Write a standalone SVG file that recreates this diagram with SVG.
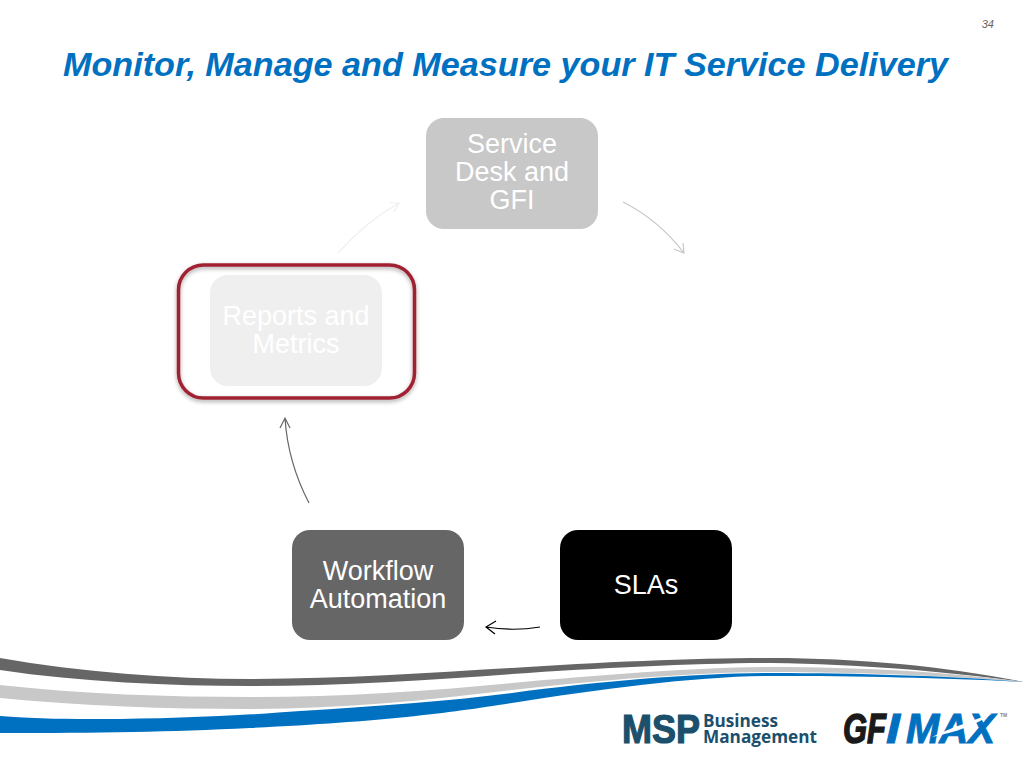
<svg xmlns="http://www.w3.org/2000/svg" width="1024" height="768" viewBox="0 0 1024 768">
<style>
.t{font-family:"Liberation Sans",Arial,sans-serif}
.n{font-size:27px;text-anchor:middle;fill:#fff}
.c{fill:none;stroke-width:1.2}
.logo{font-family:"Liberation Sans",Arial,sans-serif;font-weight:700}
.sub{font-family:"Open Sans","Liberation Sans",sans-serif;font-weight:700;font-size:17.5px;fill:#1b4f6b}
</style>
<defs>
<filter id="sh" x="-10%" y="-10%" width="120%" height="125%"><feDropShadow dx="0" dy="2" stdDeviation="2" flood-color="#000" flood-opacity="0.35"/></filter>
</defs>
<rect width="1024" height="768" fill="#fff"/>
<text class="t" x="994" y="28" font-size="11" font-style="italic" text-anchor="end" fill="#666">34</text>
<text class="t" x="63" y="76" font-size="34" font-weight="700" font-style="italic" fill="#0070C0" textLength="885" lengthAdjust="spacingAndGlyphs">Monitor, Manage and Measure your IT Service Delivery</text>
<g id="swoosh">
<path fill="#666" d="M0 658C80 672 170 679 250 679C340 679 430 673 512 668C600 662 700 658 772 658C860 658 950 667 1024 682C950 672 860 664 772 663C700 663 600 668 512 674C430 680 340 686 250 686C170 686 80 682 0 670Z"/>
<path fill="#c8c8c8" d="M0 685C80 694 170 697 250 697C340 697 430 691 512 683C600 675 700 667 772 667C860 667 950 672 1024 682C950 676 860 672 772 672C700 672 600 680 512 690C430 700 340 709 250 709C170 709 80 706 0 698Z"/>
<path fill="#0070C0" d="M0 716C40 719 70 719 100 719C170 719 250 715 300 711C380 706 450 701 512 693C600 681 700 673 772 673C860 673 950 676 1024 682C950 678 860 676 772 676C700 676 600 689 512 703C450 713 380 722 250 728C170 732 100 733 0 733Z"/>
</g>
<g id="connectors">
<path class="c" stroke="#efefef" d="M338 253C355 234 376 216 399 203M389 203L399 203L394 212"/>
<path class="c" stroke="#c8c8c8" d="M623 202C645 213 667 231 684 253M674 249L684 253L683 243"/>
<path class="c" stroke="#000" stroke-width="1.4" d="M540 627C522 630 504 630 486 627M496 621L486 627L495 634"/>
<path class="c" stroke="#666" stroke-width="1.4" d="M309 503C296 478 287 450 285 418M280 428L285 418L290 428"/>
</g>
<g id="node-service-desk">
<rect x="426" y="118" width="172" height="111" rx="18" fill="#c8c8c8"/>
<text class="t n" x="512" y="153">Service</text><text class="t n" x="512" y="181">Desk and</text><text class="t n" x="512" y="209">GFI</text>
</g>
<g id="node-reports">
<rect x="210" y="275" width="172" height="111" rx="18" fill="#efefef"/>
<text class="t n" x="296" y="325">Reports and</text><text class="t n" x="296" y="353">Metrics</text>
</g>
<g id="highlight">
<rect x="178.500" y="265" width="236" height="133" rx="25" fill="none" stroke="#a02333" stroke-width="3.500" filter="url(#sh)"/>
</g>
<g id="node-workflow">
<rect x="292" y="530" width="172" height="110" rx="18" fill="#666"/>
<text class="t n" x="378" y="580">Workflow</text><text class="t n" x="378" y="608">Automation</text>
</g>
<g id="node-slas">
<rect x="560" y="530" width="172" height="110" rx="18" fill="#000"/>
<text class="t n" x="646" y="594">SLAs</text>
</g>
<g id="logos">
<text class="logo" x="622" y="743" font-size="40" fill="#1b4f6b" stroke="#1b4f6b" stroke-width="1.2" textLength="78" lengthAdjust="spacingAndGlyphs">MSP</text>
<text class="sub" x="703" y="727" textLength="75" lengthAdjust="spacingAndGlyphs">Business</text>
<text class="sub" x="703" y="743" textLength="114" lengthAdjust="spacingAndGlyphs">Management</text>
<text class="logo" x="843" y="743" font-size="43" font-style="italic" fill="#1a1a1a" stroke="#1a1a1a" stroke-width="1.5" textLength="43" lengthAdjust="spacingAndGlyphs">GF</text>
<text class="logo" x="886" y="743" font-size="43" font-style="italic" fill="#0070C0" stroke="#0070C0" stroke-width="1" textLength="14" lengthAdjust="spacingAndGlyphs">I</text>
<text class="logo" x="906" y="743" font-size="43" font-style="italic" fill="#0070C0" stroke="#0070C0" stroke-width="1" textLength="89" lengthAdjust="spacingAndGlyphs">MAX</text>
<path fill="#fff" d="M932 737C950 728 970 722 993 713C975 726 955 732 932 737Z"/>
<text class="logo" x="1000" y="717" font-size="5" fill="#888">TM</text>
</g>
</svg>
